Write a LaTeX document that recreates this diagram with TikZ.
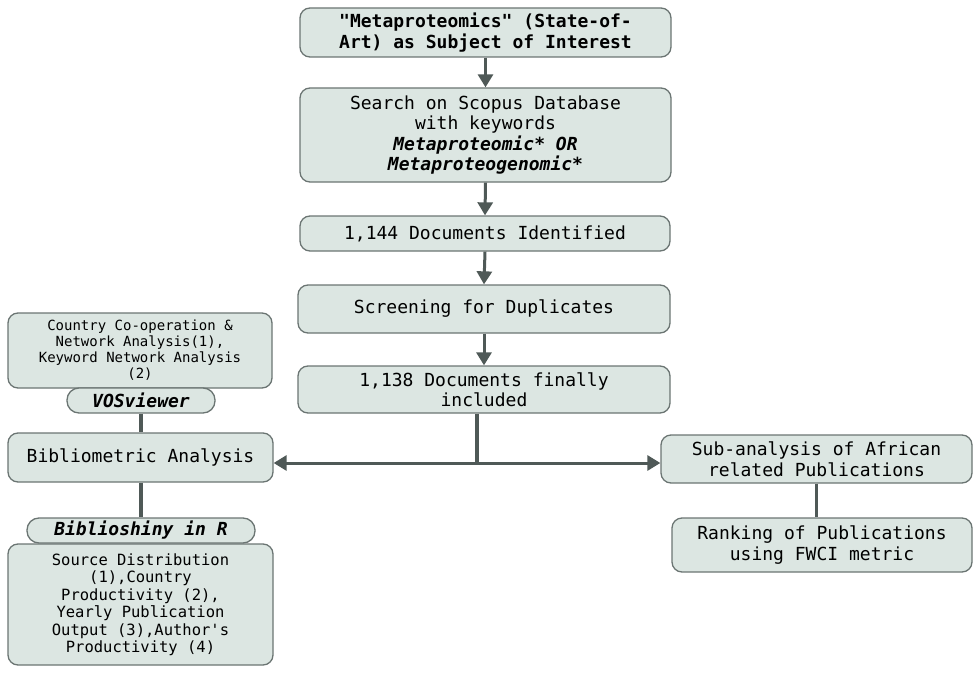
\documentclass[tikz,border=0pt]{standalone}
\usepackage{fontspec}
\setmonofont{DejaVu Sans Mono}
\renewcommand{\familydefault}{\ttdefault}
\usetikzlibrary{arrows.meta}
\definecolor{boxfill}{HTML}{DCE6E2}
\definecolor{boxline}{HTML}{6B7573}
\definecolor{conn}{HTML}{4F5957}
\tikzset{
  box/.style={draw=boxline, line width=1.3pt, fill=boxfill, rounded corners=10pt, inner sep=0pt, align=center,
    font=\ttfamily\fontsize{18}{20.5}\selectfont},
  pill/.style={draw=boxline, line width=1.3pt, fill=boxfill, rounded corners=12pt, inner sep=0pt, align=center,
    font=\ttfamily\fontsize{18}{20.5}\selectfont\bfseries\itshape},
  arr/.style={draw=conn, line width=3pt, -{Triangle[width=15pt,length=13pt]}},
  lnk/.style={draw=conn, line width=3.5pt}
}
\begin{document}
\begin{tikzpicture}[x=1pt,y=-1pt]
\useasboundingbox (0,0) rectangle (980,674);
\node[box, minimum width=371pt, minimum height=49pt, font=\ttfamily\fontsize{18}{20.5}\selectfont\bfseries] (b1) at (485.5,32.5) {"Metaproteomics" (State-of-\\Art) as Subject of Interest};
\node[box, minimum width=371pt, minimum height=94pt] (b2) at (485.5,135) {Search on Scopus Database\\with keywords\\\textbf{\textit{Metaproteomic* OR}}\\\textbf{\textit{Metaproteogenomic*}}};
\node[box, minimum width=370pt, minimum height=35pt] (b3) at (485,233.5) {1,144 Documents Identified};
\node[box, minimum width=372pt, minimum height=48pt] (b4) at (484,309) {Screening for Duplicates};
\node[box, minimum width=372pt, minimum height=47pt] (b5) at (484,389.5) {1,138 Documents finally\\included};
\node[box, minimum width=311pt, minimum height=48pt] (sub) at (816.5,459) {Sub-analysis of African\\related Publications};
\node[box, minimum width=300pt, minimum height=54pt] (rank) at (822,545) {Ranking of Publications\\using FWCI metric};
\node[box, minimum width=265pt, minimum height=49pt] (biblio) at (140.5,457.5) {Bibliometric Analysis};
\node[box, minimum width=264pt, minimum height=75pt, font=\ttfamily\fontsize{14}{16}\selectfont] (country) at (140,350.5) {Country Co-operation \&\\Network Analysis(1),\\Keyword Network Analysis\\(2)};
\node[pill, minimum width=148pt, minimum height=25pt] (vos) at (141,400.5) {VOSviewer};
\node[box, minimum width=265pt, minimum height=121pt, font=\ttfamily\fontsize{15.5}{17.5}\selectfont] (source) at (140.5,604.5) {Source Distribution\\(1),Country\\Productivity (2),\\Yearly Publication\\Output (3),Author's\\Productivity (4)};
\node[pill, minimum width=228pt, minimum height=25pt] (bshiny) at (141,530.5) {Biblioshiny in R};
\coordinate (j) at (477,463);
\draw[arr] (b1.south) -- (b2.north);
\draw[arr] (b2.south) -- (b3.north);
\draw[arr] (b3.south) -- (b4.north);
\draw[arr] (b4.south) -- (b5.north);
\draw[lnk] (b5.south -| j) -- (j);
\draw[arr] (j) -- (biblio.east |- j);
\draw[arr] (j) -- (sub.west |- j);
\draw[lnk] (vos.south) -- (biblio.north -| vos.south);
\draw[lnk] (biblio.south -| bshiny.north) -- (bshiny.north);
\draw[lnk] (sub.south) -- (rank.north -| sub.south);
\end{tikzpicture}
\end{document}
